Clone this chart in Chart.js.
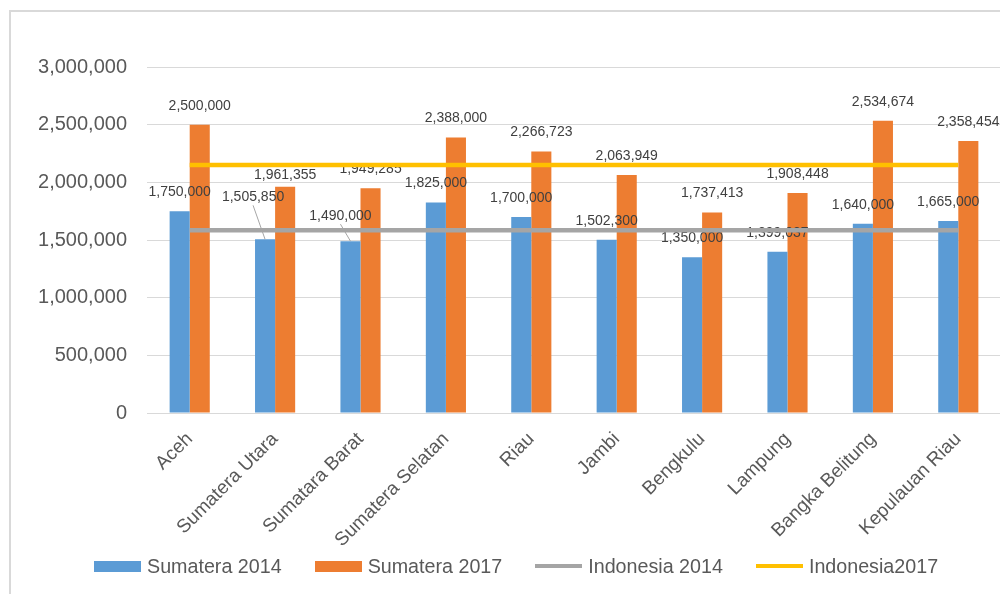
<!DOCTYPE html>
<html>
<head>
<meta charset="utf-8">
<title>UMP Sumatera 2014 - 2017</title>
<script src="https://cdn.jsdelivr.net/npm/chart.js@4.4.1/dist/chart.umd.min.js"></script>
<style>
  body { margin: 0; background: #fff; font-family: "Liberation Sans", Arial, sans-serif; }
  #frame {
    position: absolute; left: 9px; top: 10px; width: 991px; height: 584px;
    border-left: 2px solid #d9d9d9; border-top: 2px solid #d9d9d9;
  }
  #wrap { position: absolute; left: 0; top: 0; width: 990px; height: 550px; }
  #legend {
    position: absolute; left: 94px; top: 555px; height: 22px;
    display: flex; align-items: center; font-size: 19.7px; color: #595959; white-space: nowrap;
  }
  #legend .item { display: flex; align-items: center; margin-right: 33px; }
  #legend .swatch { width: 47px; margin-right: 6px; }
</style>
</head>
<body>
<div id="frame">
  <div id="wrap"><canvas id="umpChart"></canvas></div>
</div>
<div id="legend"></div>

<script>
// Provinces on the x axis
var provinces = ['Aceh', 'Sumatera Utara', 'Sumatara Barat', 'Sumatera Selatan', 'Riau',
  'Jambi', 'Bengkulu', 'Lampung', 'Bangka Belitung', 'Kepulauan Riau'];

// Provincial minimum wage (Rp)
var sumatera2014 = [1750000, 1505850, 1490000, 1825000, 1700000, 1502300, 1350000, 1399037, 1640000, 1665000];
var sumatera2017 = [2500000, 1961355, 1949285, 2388000, 2266723, 2063949, 1737413, 1908448, 2534674, 2358454];

// National averages, drawn as flat lines across all provinces
var indonesia2014 = [1584000, 1584000, 1584000, 1584000, 1584000, 1584000, 1584000, 1584000, 1584000, 1584000];
var indonesia2017 = [2150000, 2150000, 2150000, 2150000, 2150000, 2150000, 2150000, 2150000, 2150000, 2150000];

// y axis ticks
var yMax = 3000000;
var yStep = 500000;

// A few labels are moved off their bars (datasetIndex-barIndex: [dx, dy, leader line])
var labelNudges = {
  '0-1': [-12, -42, true],
  '0-2': [-10, -25, true],
  '1-1': [0, -12, false]
};

var fontFamily = '"Liberation Sans", Arial, sans-serif';

function fmt(v) {
  return Number(v).toLocaleString('en-US');
}

// Value labels above each bar, drawn before the lines so the lines sit over them
var barLabels = {
  id: 'barLabels',
  afterDatasetDraw: function (chart, args) {
    if (args.meta.type !== 'bar') return;
    var ctx = chart.ctx;
    var values = chart.data.datasets[args.index].data;
    ctx.save();
    ctx.font = '14px ' + fontFamily;
    ctx.fillStyle = '#404040';
    ctx.textAlign = 'center';
    ctx.textBaseline = 'middle';
    args.meta.data.forEach(function (bar, i) {
      var nudge = labelNudges[args.index + '-' + i] || [0, -19, false];
      var x = bar.x + nudge[0];
      var y = bar.y + nudge[1];
      if (nudge[2]) {
        ctx.strokeStyle = '#a6a6a6';
        ctx.lineWidth = 1;
        ctx.beginPath();
        ctx.moveTo(x, y + 8);
        ctx.lineTo(bar.x, bar.y);
        ctx.stroke();
      }
      ctx.fillText(fmt(values[i]), x, y);
    });
    ctx.restore();
  }
};

var datasets = [
  { type: 'bar', label: 'Sumatera 2014', data: sumatera2014, backgroundColor: '#5b9bd5', order: 1 },
  { type: 'bar', label: 'Sumatera 2017', data: sumatera2017, backgroundColor: '#ed7d31', order: 1 },
  { type: 'line', label: 'Indonesia 2014', data: indonesia2014, borderColor: '#a5a5a5', borderWidth: 4.5,
    pointRadius: 0, fill: false, order: 0 },
  { type: 'line', label: 'Indonesia2017', data: indonesia2017, borderColor: '#ffc000', borderWidth: 4.5,
    pointRadius: 0, fill: false, order: 0 }
];

var chart = new Chart(document.getElementById('umpChart').getContext('2d'), {
  type: 'bar',
  data: { labels: provinces, datasets: datasets },
  options: {
    responsive: true,
    maintainAspectRatio: false,
    animation: false,
    layout: { padding: { top: 55, right: 0, bottom: 0, left: 0 } },
    datasets: {
      bar: { categoryPercentage: 0.47, barPercentage: 1 }
    },
    plugins: {
      legend: { display: false },
      tooltip: { enabled: false }
    },
    scales: {
      x: {
        grid: { display: false, drawTicks: false },
        border: { color: '#d9d9d9' },
        ticks: {
          color: '#595959',
          font: { family: fontFamily, size: 19 },
          minRotation: 45,
          maxRotation: 45,
          padding: 15
        },
        afterFit: function (scale) { scale.height = 149; }
      },
      y: {
        min: 0,
        max: yMax,
        grid: { color: '#d9d9d9', drawTicks: false },
        border: { display: false },
        ticks: {
          stepSize: yStep,
          color: '#595959',
          font: { family: fontFamily, size: 20 },
          padding: 20,
          callback: function (v) { return fmt(v); }
        },
        afterFit: function (scale) { scale.width = 136; }
      }
    }
  },
  plugins: [barLabels]
});

// Legend under the chart: filled boxes for bars, thick strokes for lines
var legend = document.getElementById('legend');
datasets.forEach(function (ds) {
  var item = document.createElement('div');
  item.className = 'item';
  var sw = document.createElement('span');
  sw.className = 'swatch';
  if (ds.type === 'bar') {
    sw.style.height = '11px';
    sw.style.background = ds.backgroundColor;
  } else {
    sw.style.height = '4px';
    sw.style.background = ds.borderColor;
  }
  var txt = document.createElement('span');
  txt.textContent = ds.label;
  item.appendChild(sw);
  item.appendChild(txt);
  legend.appendChild(item);
});
</script>
</body>
</html>
